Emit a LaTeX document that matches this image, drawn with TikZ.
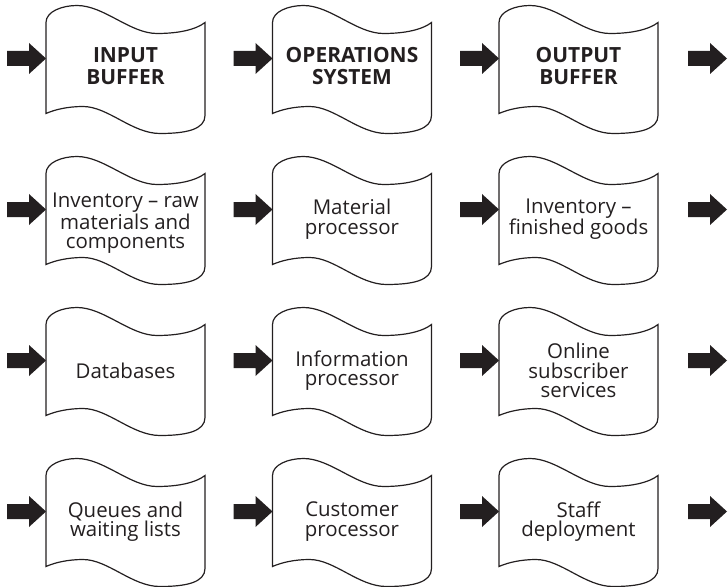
\documentclass[tikz,border=0pt]{standalone}
\usepackage{fontspec}
\setmainfont{Open Sans}
\usetikzlibrary{calc}
\definecolor{ink}{HTML}{231F20}
\newcommand{\wavebox}[1]{%
  \draw[boxline,shift={(#1)}]
    (0,17) .. controls (0,6) and (16,0) .. (31,0)
    .. controls (58,0) and (84,28) .. (111,28)
    .. controls (133,28) and (150,24) .. (159,17)
    -- (159,110)
    .. controls (159,124) and (140,128) .. (114,128)
    .. controls (86,128) and (62,101) .. (37,101)
    .. controls (22,101) and (9,104) .. (0,108) -- cycle;}
\newcommand{\blockarrow}[1]{%
  \fill[ink,shift={#1}] (-39,-7.5) -- (-17,-7.5) -- (-17,-15.5) -- (0,0)
    -- (-17,15.5) -- (-17,7.5) -- (-39,7.5) -- cycle;}
\tikzset{
  boxline/.style={draw=ink,line width=1.2bp},
  boxtext/.style={draw=none,inner sep=0pt,align=center,text=ink,
    font=\fontsize{20.5}{19.5}\selectfont},
  titletext/.style={boxtext,font=\fontsize{21}{22}\selectfont\bfseries},
}
\begin{document}
\begin{tikzpicture}[x=1bp,y=-1bp]
\useasboundingbox (0,0) rectangle (728,587);
% box corners (left edge, top of wave)
\foreach \r/\y in {1/5.5,2/156.5,3/307.5,4/458.5}{
  \foreach \c/\x in {1/46,2/272.5,3/499}{
    \coordinate (c\r\c) at (\x,\y);
  }
}
% outlines
\foreach \r in {1,2,3,4}{
  \foreach \c in {1,2,3}{ \wavebox{c\r\c} }
}
% row 1
\node[titletext] (b11) at ($(c11)+(79.5,60.5)$) {INPUT\\BUFFER};
\node[titletext] (b12) at ($(c12)+(79.5,60.5)$) {OPERATIONS\\SYSTEM};
\node[titletext] (b13) at ($(c13)+(79.5,60.5)$) {OUTPUT\\BUFFER};
% row 2
\node[boxtext] (b21) at ($(c21)+(79.5,67)$) {Inventory – raw\\materials and\\components};
\node[boxtext] (b22) at ($(c22)+(79.5,62.5)$) {Material\\processor};
\node[boxtext] (b23) at ($(c23)+(79.5,62.5)$) {Inventory –\\finished goods};
% row 3
\node[boxtext] (b31) at ($(c31)+(79.5,63)$) {Databases};
\node[boxtext] (b32) at ($(c32)+(79.5,63)$) {Information\\processor};
\node[boxtext] (b33) at ($(c33)+(79.5,63)$) {Online\\subscriber\\services};
% row 4
\node[boxtext] (b41) at ($(c41)+(79.5,63)$) {Queues and\\waiting lists};
\node[boxtext] (b42) at ($(c42)+(79.5,63)$) {Customer\\processor};
\node[boxtext] (b43) at ($(c43)+(79.5,63)$) {Staff\\deployment};
% arrows
\foreach \r in {1,2,3,4}{
  \coordinate (e\r) at ($(c\r3)+(228,53)$);
  \blockarrow{($(c\r1)+(0,53)$)}
  \blockarrow{($(c\r2)+(0,53)$)}
  \blockarrow{($(c\r3)+(0,53)$)}
  \blockarrow{(e\r)}
}
\end{tikzpicture}
\end{document}
